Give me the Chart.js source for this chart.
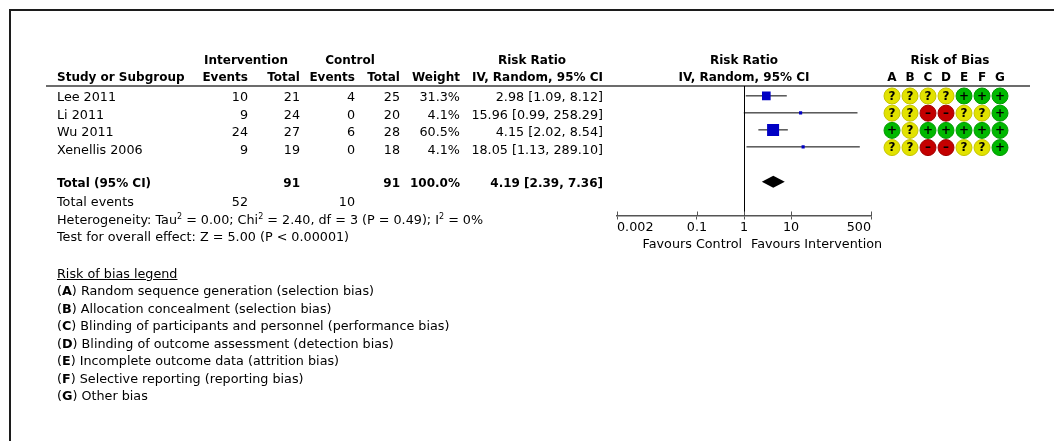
<!DOCTYPE html>
<html>
<head>
<meta charset="utf-8">
<title>Risk Ratio forest plot</title>
<script src="https://cdn.jsdelivr.net/npm/chart.js@4.4.1/dist/chart.umd.min.js"></script>
<style>
  html, body { margin: 0; padding: 0; background: #fff; }
  #page { position: relative; width: 1054px; height: 441px; overflow: hidden;
          font-family: 'DejaVu Sans', 'Noto Sans', sans-serif; font-size: 12.75px; color: #000; }
  #frame { position: absolute; left: 9px; top: 9px; width: 1200px; height: 600px;
           border-left: 2px solid #1c1c1c; border-top: 2px solid #1c1c1c; }
  #rule { position: absolute; left: 46px; top: 85px; width: 984px; height: 2px; background: #6c6c6c; }
  canvas { position: absolute; left: 0; top: 0; }
  .t { position: absolute; white-space: nowrap; line-height: 14px; }
  .b { font-weight: bold; font-size: 12px; }
  .u { text-decoration: underline; }
  sup { font-size: 8px; line-height: 0; vertical-align: 5px; }
</style>
</head>
<body>
<div id="page">
  <div id="frame"></div>
  <div id="rule"></div>
  <canvas id="forest" width="1054" height="441"></canvas>
  <canvas id="bias" width="1054" height="441"></canvas>
  <div id="labels"></div>
</div>
<script>
// ---- study data ----
const studies    = ['Lee 2011', 'Li 2011', 'Wu 2011', 'Xenellis 2006'];
const intEvents  = [10, 9, 24, 9];
const intTotal   = [21, 24, 27, 19];
const ctlEvents  = [4, 0, 6, 0];
const ctlTotal   = [25, 20, 28, 18];
const weights    = [31.3, 4.1, 60.5, 4.1];
const riskRatio  = [2.98, 15.96, 4.15, 18.05];
const ciLower    = [1.09, 0.99, 2.02, 1.13];
const ciUpper    = [8.12, 258.29, 8.54, 289.10];
const pooled     = [4.19, 2.39, 7.36];          // estimate, lower, upper
const axisTicks  = [0.002, 0.1, 1, 10, 500];

// ---- risk of bias ----
const biasDomains = ['A', 'B', 'C', 'D', 'E', 'F', 'G'];
const biasRatings = [
  ['?', '?', '?', '?', '+', '+', '+'],
  ['?', '?', '-', '-', '?', '?', '+'],
  ['+', '?', '+', '+', '+', '+', '+'],
  ['?', '?', '-', '-', '?', '?', '+']
];
const biasLegend = [
  'Random sequence generation (selection bias)',
  'Allocation concealment (selection bias)',
  'Blinding of participants and personnel (performance bias)',
  'Blinding of outcome assessment (detection bias)',
  'Incomplete outcome data (attrition bias)',
  'Selective reporting (reporting bias)',
  'Other bias'
];

// ---- layout ----
const W = 1054;
const Y_MIN = -0.58, Y_MAX = 7.035;   // row units spanned by the plot area
const TOTAL_ROW = 5.05;
const BOX_MAX = 12;                   // side of the heaviest study's square, px

Chart.defaults.font.family = "'DejaVu Sans', 'Noto Sans', sans-serif";
Chart.defaults.font.size = 12.75;
Chart.defaults.color = '#000';
Chart.defaults.animation = false;

const fmt2 = v => v.toFixed(2);
const ciText = (e, l, u) => `${fmt2(e)} [${fmt2(l)}, ${fmt2(u)}]`;
const sum = a => a.reduce((s, v) => s + v, 0);

// ---- forest plot ----
const forestExtras = {
  id: 'forestExtras',
  beforeDatasetsDraw(chart) {
    const { ctx, chartArea, scales: { x } } = chart;
    ctx.save();
    // line of no effect
    const x1 = Math.round(x.getPixelForValue(1)) + 0.5;
    ctx.strokeStyle = '#000';
    ctx.lineWidth = 1;
    ctx.beginPath();
    ctx.moveTo(x1, chartArea.top);
    ctx.lineTo(x1, chartArea.bottom);
    ctx.stroke();
    // tick stubs above the axis line
    ctx.strokeStyle = '#555';
    ctx.beginPath();
    axisTicks.forEach(v => {
      const px = Math.round(x.getPixelForValue(v)) + 0.5;
      ctx.moveTo(px, chartArea.bottom - 4);
      ctx.lineTo(px, chartArea.bottom);
    });
    ctx.stroke();
    ctx.restore();
  },
  afterDatasetsDraw(chart) {
    const { ctx, scales: { x, y } } = chart;
    const yc = y.getPixelForValue(TOTAL_ROW);
    const xl = x.getPixelForValue(pooled[1]);
    const xm = x.getPixelForValue(pooled[0]);
    const xr = x.getPixelForValue(pooled[2]);
    ctx.save();
    ctx.fillStyle = '#000';
    ctx.beginPath();
    ctx.moveTo(xl, yc);
    ctx.lineTo(xm, yc - 6);
    ctx.lineTo(xr, yc);
    ctx.lineTo(xm, yc + 6);
    ctx.closePath();
    ctx.fill();
    ctx.restore();
  }
};

const maxW = Math.max(...weights);
const ciSets = studies.map((s, i) => ({
  label: s + ' CI',
  data: [{ x: ciLower[i], y: i }, { x: ciUpper[i], y: i }],
  showLine: true,
  borderColor: '#000',
  borderWidth: 1,
  pointRadius: 0,
  order: 2
}));
const boxSet = {
  label: 'Risk ratio',
  data: riskRatio.map((v, i) => ({ x: v, y: i })),
  pointStyle: 'rect',
  pointRadius: weights.map(w => BOX_MAX * Math.sqrt(w / maxW) / Math.SQRT2),
  backgroundColor: '#0000c4',
  borderWidth: 0,
  order: 1
};

const forest = new Chart(document.getElementById('forest'), {
  type: 'scatter',
  data: { datasets: [...ciSets, boxSet] },
  options: {
    responsive: false,
    layout: { padding: { left: 617, right: W - 871, top: 86, bottom: 204.2 } },
    scales: {
      x: {
        type: 'logarithmic',
        min: axisTicks[0],
        max: axisTicks[axisTicks.length - 1],
        afterBuildTicks: sc => { sc.ticks = axisTicks.map(v => ({ value: v })); },
        ticks: { autoSkip: false, maxRotation: 0, padding: 1, color: '#000', align: 'inner',
                 callback: v => String(v) },
        grid: { drawOnChartArea: false, drawTicks: true, tickLength: 4, color: '#555' },
        border: { display: true, color: '#555', width: 1.5 }
      },
      y: { type: 'linear', display: false, reverse: true, min: Y_MIN, max: Y_MAX }
    },
    plugins: { legend: { display: false }, tooltip: { enabled: false } }
  },
  plugins: [forestExtras]
});

// ---- risk of bias grid ----
const biasFill   = { '+': '#00b800', '?': '#e2e200', '-': '#c40000' };
const biasEdge   = { '+': '#009a00', '?': '#c4c400', '-': '#a00000' };
const biasGlyph  = { '+': '+', '?': '?', '-': '\u2013' };
const biasPoints = biasRatings.flatMap((row, i) =>
  row.map((r, j) => ({ x: biasDomains[j], y: i, r })));

const biasGlyphs = {
  id: 'biasGlyphs',
  afterDatasetsDraw(chart) {
    const { ctx } = chart;
    const meta = chart.getDatasetMeta(0);
    ctx.save();
    ctx.font = "bold 12px 'DejaVu Sans', sans-serif";
    ctx.textAlign = 'center';
    ctx.textBaseline = 'middle';
    ctx.fillStyle = '#000';
    meta.data.forEach((pt, k) => {
      ctx.fillText(biasGlyph[biasPoints[k].r], pt.x, pt.y + 0.5);
    });
    ctx.restore();
  }
};

const bias = new Chart(document.getElementById('bias'), {
  type: 'scatter',
  data: {
    datasets: [{
      label: 'Risk of bias',
      data: biasPoints,
      pointRadius: 8,
      pointStyle: 'circle',
      backgroundColor: c => biasFill[c.raw.r],
      borderColor: c => biasEdge[c.raw.r],
      borderWidth: 1,
      clip: false
    }]
  },
  options: {
    responsive: false,
    layout: { padding: { left: 892, right: W - 1000, top: 86, bottom: 441 - 217 } },
    scales: {
      x: { type: 'category', labels: biasDomains, display: false, offset: false },
      y: { type: 'linear', display: false, reverse: true, min: Y_MIN, max: Y_MAX }
    },
    plugins: { legend: { display: false }, tooltip: { enabled: false } }
  },
  plugins: [biasGlyphs]
});

// ---- table text ----
const host = document.getElementById('labels');
function put(html, x, base, align, cls) {
  const d = document.createElement('div');
  d.className = 't' + (cls ? ' ' + cls : '');
  d.innerHTML = html;
  d.style.top = (base - 11.3) + 'px';
  if (align === 'left') d.style.left = x + 'px';
  else if (align === 'right') d.style.right = (W - x) + 'px';
  else { d.style.left = (x - 200) + 'px'; d.style.width = '400px'; d.style.textAlign = 'center'; }
  host.appendChild(d);
}

const COL = { name: 57, ie: 248, it: 300, ce: 355, ct: 400, w: 460, rr: 603 };
const H1 = 64, H2 = 81.5, ROW0 = 101.5, STEP = 17.5;
const xs = forest.scales.x;
const plotMid = xs.getPixelForValue(1);

put('Intervention', 246, H1, 'center', 'b');
put('Control', 350, H1, 'center', 'b');
put('Risk Ratio', 532, H1, 'center', 'b');
put('Risk Ratio', plotMid, H1, 'center', 'b');
put('Risk of Bias', 950, H1, 'center', 'b');

put('Study or Subgroup', COL.name, H2, 'left', 'b');
put('Events', COL.ie, H2, 'right', 'b');
put('Total', COL.it, H2, 'right', 'b');
put('Events', COL.ce, H2, 'right', 'b');
put('Total', COL.ct, H2, 'right', 'b');
put('Weight', COL.w, H2, 'right', 'b');
put('IV, Random, 95% CI', COL.rr, H2, 'right', 'b');
put('IV, Random, 95% CI', plotMid, H2, 'center', 'b');
biasDomains.forEach((d, j) => put(d, bias.scales.x.getPixelForValue(j), H2, 'center', 'b'));

studies.forEach((s, i) => {
  const b = ROW0 + STEP * i;
  put(s, COL.name, b, 'left');
  put(String(intEvents[i]), COL.ie, b, 'right');
  put(String(intTotal[i]), COL.it, b, 'right');
  put(String(ctlEvents[i]), COL.ce, b, 'right');
  put(String(ctlTotal[i]), COL.ct, b, 'right');
  put(weights[i].toFixed(1) + '%', COL.w, b, 'right');
  put(ciText(riskRatio[i], ciLower[i], ciUpper[i]), COL.rr, b, 'right');
});

const TOT = 187;
put('Total (95% CI)', COL.name, TOT, 'left', 'b');
put(String(sum(intTotal)), COL.it, TOT, 'right', 'b');
put(String(sum(ctlTotal)), COL.ct, TOT, 'right', 'b');
put(sum(weights).toFixed(1) + '%', COL.w, TOT, 'right', 'b');
put(ciText(pooled[0], pooled[1], pooled[2]), COL.rr, TOT, 'right', 'b');

put('Total events', COL.name, 206.5, 'left');
put(String(sum(intEvents)), COL.ie, 206.5, 'right');
put(String(sum(ctlEvents)), COL.ce, 206.5, 'right');
put('Heterogeneity: Tau<sup>2</sup> = 0.00; Chi<sup>2</sup> = 2.40, df = 3 (P = 0.49); I<sup>2</sup> = 0%', COL.name, 224, 'left');
put('Test for overall effect: Z = 5.00 (P &lt; 0.00001)', COL.name, 241.5, 'left');

put('Favours Control', plotMid - 2, 248, 'right');
put('Favours Intervention', plotMid + 7, 248, 'left');

put('Risk of bias legend', COL.name, 278, 'left', 'u');
biasLegend.forEach((txt, k) => {
  put('(<b>' + biasDomains[k] + '</b>) ' + txt, COL.name, 295.5 + STEP * k, 'left');
});
</script>
</body>
</html>
